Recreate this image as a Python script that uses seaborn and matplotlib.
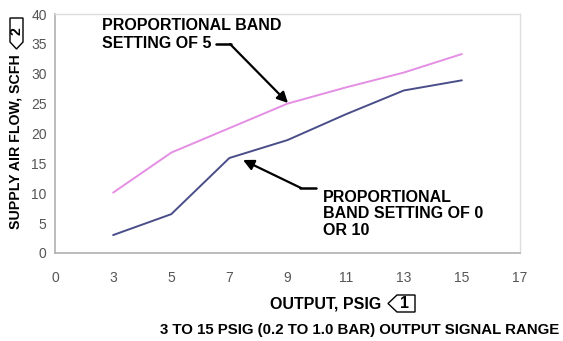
import matplotlib
matplotlib.use('Agg')
import matplotlib.pyplot as plt
import seaborn as sns
from matplotlib.patches import Polygon
from matplotlib.lines import Line2D

# ── Data ─────────────────────────────────────────────────────────────
x_labels = ['0', '3', '5', '7', '9', '11', '13', '15', '17']
output_psig = [3, 5, 7, 9, 11, 13, 15]
flow_band_5 = [10.1, 16.8, 20.9, 25.0, 27.7, 30.2, 33.3]
flow_band_0_10 = [3.0, 6.5, 15.9, 18.9, 23.2, 27.2, 28.9]
y_ticks = [0, 5, 10, 15, 20, 25, 30, 35, 40]

# category positions (the x axis is evenly spaced labels)
pos = [x_labels.index(str(v)) for v in output_psig]

W, H = 563, 341
sns.set_style('white')
plt.rcParams['font.family'] = ['Liberation Sans', 'DejaVu Sans']

fig = plt.figure(figsize=(W / 100, H / 100), dpi=100)
ax = fig.add_axes([55 / W, (H - 253) / H, 465 / W, 239 / H])


def px(x, y):
    # pixel (from top-left) to figure fraction
    return x / W, 1 - y / H


sns.lineplot(x=pos, y=flow_band_5, ax=ax, color='#e48ee4', lw=1.4)
sns.lineplot(x=pos, y=flow_band_0_10, ax=ax, color='#4a4e88', lw=1.4)

ax.set_xlim(0, len(x_labels) - 1)
ax.set_ylim(0, 40)
ax.set_xticks(range(len(x_labels)))
ax.set_xticklabels(x_labels)
ax.set_yticks(y_ticks)
ax.tick_params(axis='both', labelsize=10, labelcolor='#555555', color='#aaaaaa',
               direction='out', length=4, width=1)
ax.tick_params(axis='x', pad=9)
ax.tick_params(axis='y', pad=2)
ax.set_xlabel('')
ax.set_ylabel('')
for side in ['left', 'bottom']:
    ax.spines[side].set_color('#b0b0b0')
    ax.spines[side].set_linewidth(1.2)
for side in ['top', 'right']:
    ax.spines[side].set_color('#dddddd')
    ax.spines[side].set_linewidth(1.0)

bold = dict(fontweight='bold', color='black')

# ── Annotations ─────────────────────────────────────────────────────
fig.text(*px(102, 35), 'PROPORTIONAL BAND\nSETTING OF 5', va='center', ha='left',
         linespacing=1.25, fontsize=11.5, **bold)
fig.add_artist(Line2D([px(216, 44)[0], px(231, 44)[0]], [px(216, 44)[1], px(231, 44)[1]],
                      color='black', lw=1.8, transform=fig.transFigure))
ax.annotate('', xy=px(288, 103), xytext=px(230, 44), xycoords='figure fraction',
            textcoords='figure fraction',
            arrowprops=dict(arrowstyle='-|>', color='black', lw=1.6,
                            mutation_scale=16, shrinkA=0, shrinkB=0))

fig.text(*px(323, 214), 'PROPORTIONAL\nBAND SETTING OF 0\nOR 10', va='center', ha='left',
         linespacing=1.15, fontsize=11.5, **bold)
fig.add_artist(Line2D([px(300, 188)[0], px(316, 188)[0]], [px(300, 188)[1], px(316, 188)[1]],
                      color='black', lw=1.8, transform=fig.transFigure))
ax.annotate('', xy=px(243, 160), xytext=px(301, 188), xycoords='figure fraction',
            textcoords='figure fraction',
            arrowprops=dict(arrowstyle='-|>', color='black', lw=1.6,
                            mutation_scale=16, shrinkA=0, shrinkB=0))

# ── Axis titles with flag markers ───────────────────────────────────
fig.text(*px(16, 142), 'SUPPLY AIR FLOW, SCFH', rotation=90, va='center', ha='center',
         fontsize=10.2, **bold)
flag2 = [px(10, 18), px(23, 18), px(23, 42), px(16.5, 49), px(10, 42)]
fig.add_artist(Polygon(flag2, closed=True, fill=False, ec='black', lw=1.0,
                       transform=fig.transFigure))
fig.text(*px(16.5, 31), '2', rotation=90, va='center', ha='center', fontsize=10.2, **bold)

fig.text(*px(326, 304), 'OUTPUT, PSIG', va='center', ha='center', fontsize=11.5, **bold)
flag1 = [px(388, 303.5), px(397, 295), px(415, 295), px(415, 312), px(397, 312)]
fig.add_artist(Polygon(flag1, closed=True, fill=False, ec='black', lw=1.0,
                       transform=fig.transFigure))
fig.text(*px(405, 304), '1', va='center', ha='center', fontsize=11.5, **bold)

fig.text(*px(360, 330), '3 TO 15 PSIG (0.2 TO 1.0 BAR) OUTPUT SIGNAL RANGE',
         va='center', ha='center', fontsize=10.8, **bold)

plt.savefig('out.png', dpi=100)
